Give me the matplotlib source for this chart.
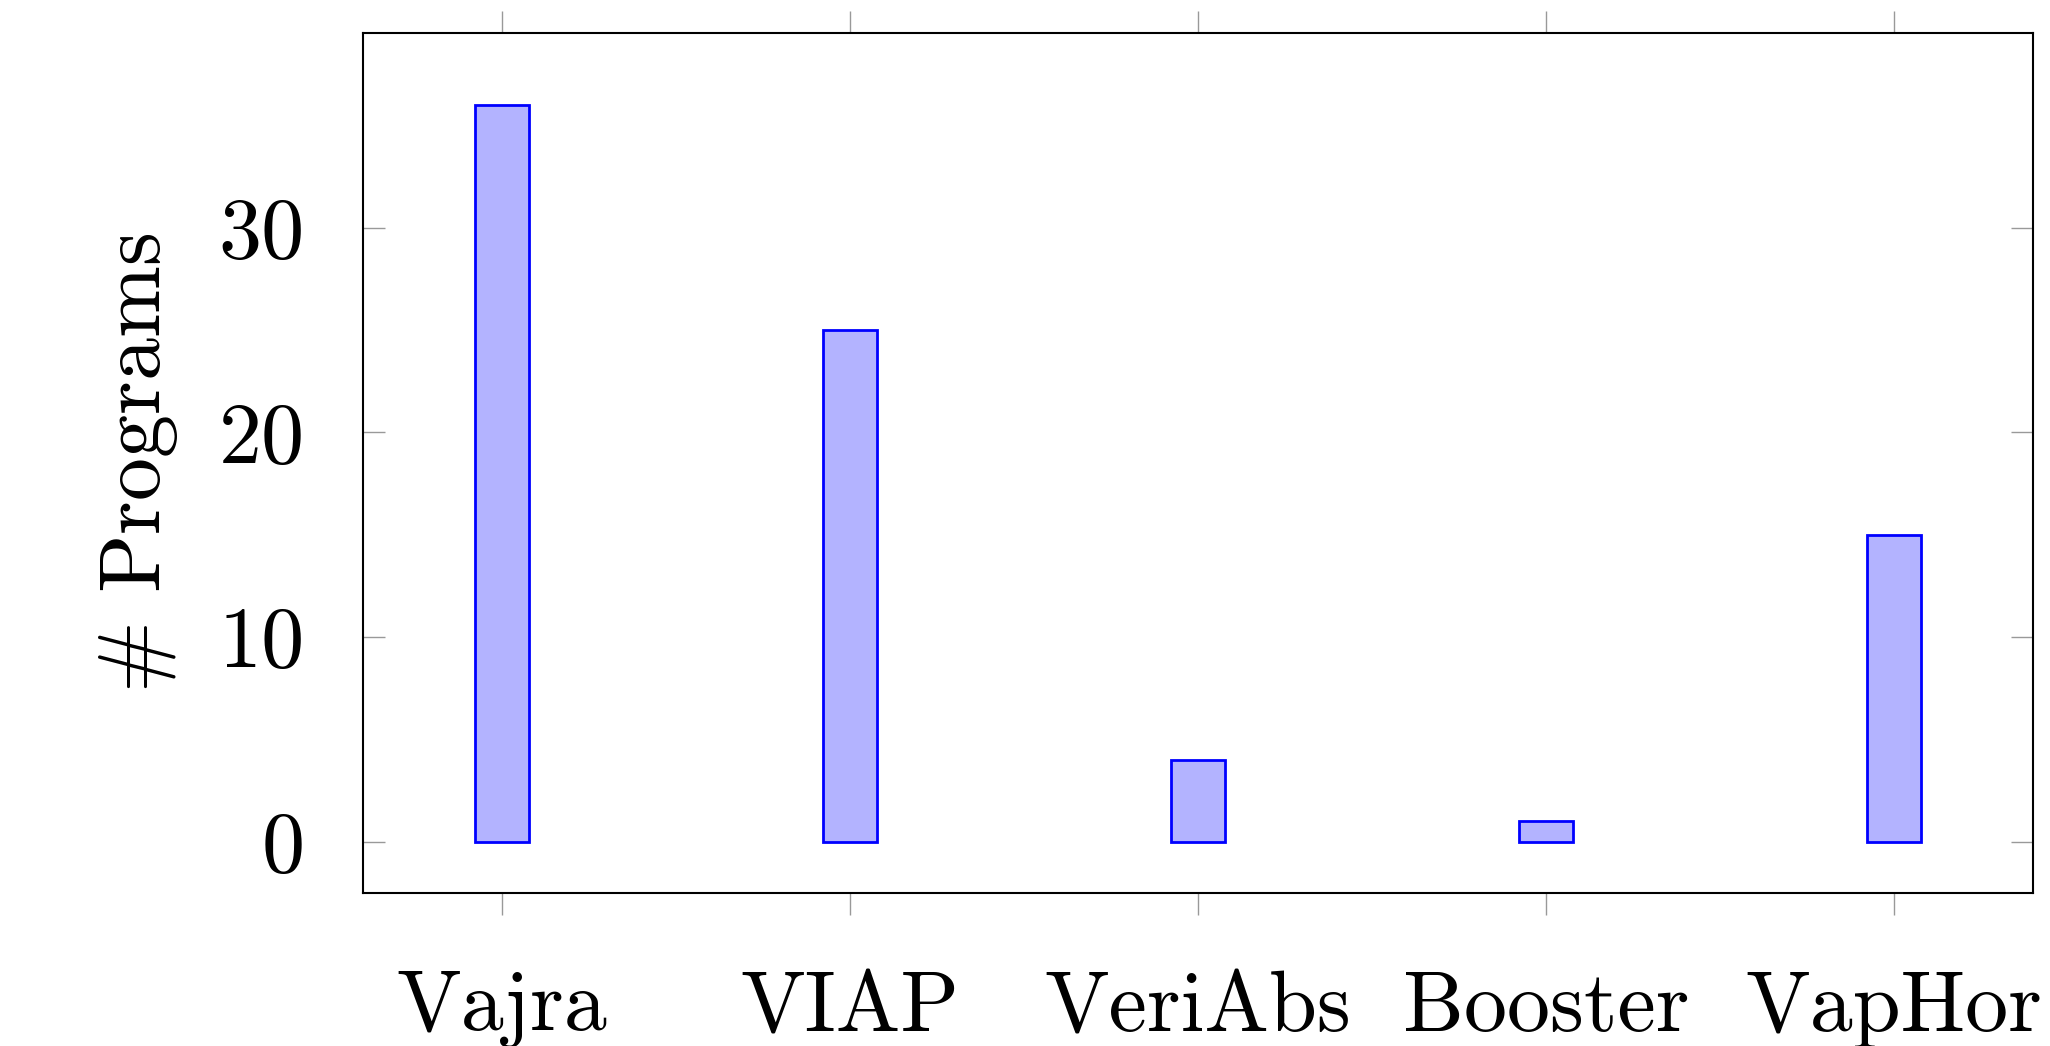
import numpy as np
import matplotlib.pyplot as plt

plt.rcParams['font.family'] = ['cmr10', 'DejaVu Sans']
plt.rcParams['mathtext.fontset'] = 'cm'
plt.rcParams['axes.formatter.use_mathtext'] = True

tools = ['Vajra', 'VIAP', 'VeriAbs', 'Booster', 'VapHor']
programs = [36, 25, 4, 1, 15]
yticks = [0, 10, 20, 30]

fig = plt.figure(figsize=(20.5, 10.46), dpi=100)
ax = fig.add_axes([363/2050, 1 - 893/1046, (2033-363)/2050, (893-33)/1046])

x = np.arange(len(tools))
ax.bar(x, programs, width=0.155, color='#b3b3ff', edgecolor='blue', linewidth=2)

ax.set_xlim(-0.4, 4.4)
ax.set_ylim(-2.5, 39.5)
ax.set_xticks(x)
ax.set_xticklabels(tools, fontsize=62)
ax.set_yticks(yticks)
ax.set_yticklabels([str(v) for v in yticks], fontsize=62)
ax.set_ylabel(r'$\#$ Programs', fontsize=62, labelpad=28)

ax.tick_params(axis='x', direction='out', length=16, width=1, color='#999999',
               top=True, bottom=True, pad=40)
ax.tick_params(axis='y', direction='in', length=16, width=1, color='#999999',
               left=True, right=True, pad=42)
for s in ax.spines.values():
    s.set_linewidth(1.5)

fig.savefig('out.png', dpi=100)
